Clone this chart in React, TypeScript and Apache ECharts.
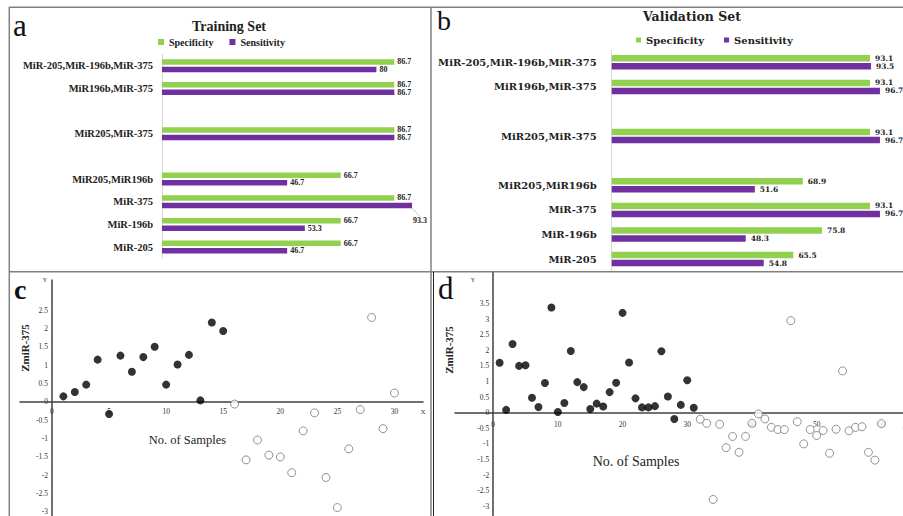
import React, { useEffect, useRef } from 'react';
import * as echarts from 'echarts';

// ---------- data ----------
const barCategories = [
  'MiR-205,MiR-196b,MiR-375',
  'MiR196b,MiR-375',
  '',
  'MiR205,MiR-375',
  ' ',
  'MiR205,MiR196b',
  'MiR-375',
  'MiR-196b',
  'MiR-205',
];
const trainingSpecificity = [86.7, 86.7, null, 86.7, null, 66.7, 86.7, 66.7, 66.7];
const trainingSensitivity = [80, 86.7, null, 86.7, null, 46.7, 93.3, 53.3, 46.7];
const validationSpecificity = [93.1, 93.1, null, 93.1, null, 68.9, 93.1, 75.8, 65.5];
const validationSensitivity = [93.5, 96.7, null, 96.7, null, 51.6, 96.7, 48.3, 54.8];

const trainingHigh = [
  [1, 0.15], [2, 0.27], [3, 0.47], [4, 1.15], [5, -0.33], [6, 1.26], [7, 0.82], [8, 1.22],
  [9, 1.5], [10, 0.47], [11, 1.02], [12, 1.28], [13, 0.04], [14, 2.16], [15, 1.93],
];
const trainingLow = [
  [16, -0.06], [17, -1.58], [18, -1.04], [19, -1.45], [20, -1.5], [21, -1.93], [22, -0.79],
  [23, -0.3], [24, -2.06], [25, -2.88], [26, -1.28], [27, -0.21], [28, 2.3], [29, -0.73], [30, 0.24],
];
const validationHigh = [
  [1, 1.6], [2, 0.09], [3, 2.2], [4, 1.5], [5, 1.52], [6, 0.48], [7, 0.18], [8, 0.95],
  [9, 3.37], [10, 0.02], [11, 0.31], [12, 1.98], [13, 0.98], [14, 0.82], [15, 0.12], [16, 0.29],
  [17, 0.2], [18, 0.66], [19, 0.96], [20, 3.2], [21, 1.61], [22, 0.46], [23, 0.17], [24, 0.17],
  [25, 0.21], [26, 1.97], [27, 0.52], [28, -0.2], [29, 0.25], [30, 1.04], [31, 0.16],
];
const validationLow = [
  [32, -0.21], [33, -0.34], [34, -2.78], [35, -0.37], [36, -1.12], [37, -0.76], [38, -1.27],
  [39, -0.76], [40, -0.34], [41, -0.04], [42, -0.2], [43, -0.47], [44, -0.54], [45, -0.54],
  [46, 2.95], [47, -0.29], [48, -1.0], [49, -0.54], [50, -0.73], [51, -0.57], [52, -1.3],
  [53, -0.53], [54, 1.34], [55, -0.58], [56, -0.47], [57, -0.45], [58, -1.27], [59, -1.52],
  [60, -0.35], [64, -0.5],
];

const trainingXTicks = [0, 5, 10, 15, 20, 25, 30];
const trainingYTicks = [-3, -2.5, -2, -1.5, -1, -0.5, 0, 0.5, 1, 1.5, 2, 2.5];
const validationXTicks = [0, 10, 20, 30, 40, 50, 60];
const validationYTicks = [-3, -2.5, -2, -1.5, -1, -0.5, 0, 0.5, 1, 1.5, 2, 2.5, 3, 3.5];

// ---------- styles ----------
const GREEN = '#92D050';
const PURPLE = '#7030A0';
const SERIF = 'Liberation Serif';
const WIDE = 'DejaVu Serif';
const FRAME = '#808080';
const AXIS = '#404040';

type Box = { left: number; top: number; width: number; height: number };

// Axes that cross at zero: the axis is shifted (offset) from the grid edge to the zero line,
// so that its labels travel with the line.
function scatterAxes(grid: number, box: Box, xr: number[], yr: number[], xt: number[], yt: number[], fs: number, xMargin: number) {
  const lineStyle = { color: AXIS, width: 1.5 };
  const xZeroPx = box.left + ((0 - xr[0]) / (xr[1] - xr[0])) * box.width;
  const yZeroPx = box.top + ((yr[1] - 0) / (yr[1] - yr[0])) * box.height;
  const xOffset = yZeroPx - (box.top + box.height); // bottom axis: y = bottom + offset
  const yOffset = box.left - xZeroPx; // left axis: x = left - offset
  return {
    x: {
      type: 'value', gridIndex: grid, min: xr[0], max: xr[1], position: 'bottom', offset: xOffset,
      axisLine: { show: true, onZero: false, lineStyle },
      axisTick: { show: false }, splitLine: { show: false },
      axisLabel: { customValues: xt, fontFamily: SERIF, fontSize: fs, color: '#333', margin: xMargin },
    },
    y: {
      type: 'value', gridIndex: grid, min: yr[0], max: yr[1], position: 'left', offset: yOffset,
      axisLine: { show: true, onZero: false, lineStyle },
      axisTick: { show: false }, splitLine: { show: false },
      axisLabel: { customValues: yt, fontFamily: SERIF, fontSize: fs, color: '#333', margin: 4 },
    },
  };
}

export default function App() {
  const ref = useRef<HTMLDivElement>(null);
  useEffect(() => {
    if (!ref.current) return;
    const chart = echarts.init(ref.current, null, { renderer: 'svg' });
    const boxC: Box = { left: 20, top: 280, width: 403, height: 243 };
    const boxD: Box = { left: 455, top: 272.3, width: 465.2, height: 249.6 };
    const c = scatterAxes(2, boxC, [-2.8, 32.5], [-3.3, 3.32], trainingXTicks, trainingYTicks, 7.5, 6);
    const d = scatterAxes(3, boxD, [-5.9, 66], [-3.5, 4.5], validationXTicks, validationYTicks, 7.5, 8);

    const barLabelA = { show: true, position: 'right', distance: 3, fontFamily: SERIF, fontWeight: 'bold', fontSize: 8, color: '#222' };
    const barLabelB = { show: true, position: 'right', distance: 5, fontFamily: WIDE, fontWeight: 'bold', fontSize: 7.5, color: '#222' };

    const catAxis = (grid: number, font: string, size: number, margin: number) => ({
      type: 'category', gridIndex: grid, inverse: true, data: barCategories,
      axisLine: { show: true, lineStyle: { color: '#d9d9d9', width: 1 } },
      axisTick: { show: false },
      axisLabel: { fontFamily: font, fontWeight: 'bold', fontSize: size, color: '#222', margin },
    });
    const valAxis = (grid: number) => ({ type: 'value', gridIndex: grid, min: 0, max: 100, show: false });

    const openStyle = { color: '#fff', borderColor: '#777', borderWidth: 1 };

    const option: any = {
      animation: false,
      backgroundColor: '#fff',
      grid: [
        { left: 162, top: 54.4, width: 268, height: 204, outerBoundsMode: 'none' },
        { left: 611.7, top: 50, width: 277.4, height: 221.4, outerBoundsMode: 'none' },
        { ...boxC, outerBoundsMode: 'none' },
        { ...boxD, outerBoundsMode: 'none' },
      ],
      xAxis: [valAxis(0), valAxis(1), c.x, d.x],
      yAxis: [catAxis(0, SERIF, 10.5, 9), catAxis(1, WIDE, 10, 15), c.y, d.y],
      legend: [
        {
          left: 158, top: 37, padding: 0, itemWidth: 6, itemHeight: 6, itemGap: 16, icon: 'rect',
          data: ['Specificity', 'Sensitivity'],
          textStyle: { fontFamily: SERIF, fontWeight: 'bold', fontSize: 10, color: '#222' },
        },
        {
          left: 636, top: 35, padding: 0, itemWidth: 5, itemHeight: 5, itemGap: 20, icon: 'rect',
          data: ['Specificity', 'Sensitivity'],
          textStyle: { fontFamily: WIDE, fontWeight: 'bold', fontSize: 10, color: '#222' },
        },
      ],
      series: [
        {
          type: 'bar', name: 'Specificity', xAxisIndex: 0, yAxisIndex: 0, data: trainingSpecificity,
          barWidth: 5.5, barGap: '36%', itemStyle: { color: GREEN }, label: barLabelA,
        },
        {
          type: 'bar', name: 'Sensitivity', xAxisIndex: 0, yAxisIndex: 0,
          data: trainingSensitivity.map((v, i) =>
            i === 6 ? { value: v, labelLine: { show: true, lineStyle: { color: '#c8c8c8', width: 1 } } } : v),
          labelLayout: (p: any) => (p.dataIndex === 6 ? { dx: -2, dy: 15 } : {}),
          barWidth: 5.5, barGap: '36%', itemStyle: { color: PURPLE }, label: barLabelA,
        },
        {
          type: 'bar', name: 'Specificity', xAxisIndex: 1, yAxisIndex: 1, data: validationSpecificity,
          barWidth: 6.5, barGap: '23%', itemStyle: { color: GREEN }, label: barLabelB,
        },
        {
          type: 'bar', name: 'Sensitivity', xAxisIndex: 1, yAxisIndex: 1, data: validationSensitivity,
          barWidth: 6.5, barGap: '23%', itemStyle: { color: PURPLE }, label: barLabelB,
        },
        {
          type: 'scatter', name: 'Training high', xAxisIndex: 2, yAxisIndex: 2, data: trainingHigh,
          symbolSize: 8, itemStyle: { color: '#000' },
        },
        {
          type: 'scatter', name: 'Training low', xAxisIndex: 2, yAxisIndex: 2, data: trainingLow,
          symbolSize: 8, itemStyle: openStyle,
        },
        {
          type: 'scatter', name: 'Validation high', xAxisIndex: 3, yAxisIndex: 3, data: validationHigh,
          symbolSize: 8, itemStyle: { color: '#000' },
        },
        {
          type: 'scatter', name: 'Validation low', xAxisIndex: 3, yAxisIndex: 3, data: validationLow,
          symbolSize: 8, itemStyle: openStyle,
        },
      ],
      graphic: [
        // frames
        { type: 'line', shape: { x1: 9, y1: 7.3, x2: 903, y2: 7.3 }, style: { stroke: FRAME, lineWidth: 1.5 }, z: 10 },
        { type: 'line', shape: { x1: 9.3, y1: 7, x2: 9.3, y2: 516 }, style: { stroke: FRAME, lineWidth: 1.5 }, z: 10 },
        { type: 'line', shape: { x1: 431, y1: 7, x2: 431, y2: 516 }, style: { stroke: FRAME, lineWidth: 1.5 }, z: 10 },
        { type: 'line', shape: { x1: 9, y1: 271.7, x2: 903, y2: 271.7 }, style: { stroke: FRAME, lineWidth: 1.5 }, z: 10 },
        { type: 'line', shape: { x1: 433.5, y1: 272, x2: 433.5, y2: 516 }, style: { stroke: '#222', lineWidth: 1 }, z: 10 },
        // titles
        { type: 'text', x: 229, y: 26, style: { text: 'Training Set', font: `bold 14px "${SERIF}"`, fill: '#222', align: 'center', verticalAlign: 'middle' } },
        { type: 'text', x: 692, y: 16, style: { text: 'Validation Set', font: `bold 12.5px "${WIDE}"`, fill: '#222', align: 'center', verticalAlign: 'middle' } },
        // panel letters
        { type: 'text', x: 13, y: 25.5, style: { text: 'a', font: `31px "${SERIF}"`, fill: '#111', verticalAlign: 'middle' } },
        { type: 'text', x: 437, y: 20.5, style: { text: 'b', font: `28px "${SERIF}"`, fill: '#111', verticalAlign: 'middle' } },
        { type: 'text', x: 14, y: 289, style: { text: 'c', font: `bold 28px "${SERIF}"`, fill: '#111', verticalAlign: 'middle' } },
        { type: 'text', x: 438, y: 288.5, style: { text: 'd', font: `31px "${SERIF}"`, fill: '#111', verticalAlign: 'middle' } },
        // axis titles
        { type: 'text', x: 25, y: 348, rotation: Math.PI / 2, style: { text: 'ZmiR-375', font: `bold 11px "${SERIF}"`, fill: '#222', align: 'center', verticalAlign: 'middle' } },
        { type: 'text', x: 449, y: 350, rotation: Math.PI / 2, style: { text: 'ZmiR-375', font: `bold 11px "${SERIF}"`, fill: '#222', align: 'center', verticalAlign: 'middle' } },
        { type: 'text', x: 187.5, y: 440, style: { text: 'No. of Samples', font: `12.5px "${SERIF}"`, fill: '#222', align: 'center', verticalAlign: 'middle' } },
        { type: 'text', x: 636, y: 461, style: { text: 'No. of Samples', font: `14px "${SERIF}"`, fill: '#222', align: 'center', verticalAlign: 'middle' } },
        { type: 'text', x: 45, y: 280, style: { text: 'Y', font: `6px "${SERIF}"`, fill: '#333', align: 'center', verticalAlign: 'middle' } },
        { type: 'text', x: 473, y: 280, style: { text: 'Y', font: `6px "${SERIF}"`, fill: '#333', align: 'center', verticalAlign: 'middle' } },
        { type: 'text', x: 423, y: 412, style: { text: 'X', font: `7px "${SERIF}"`, fill: '#333', align: 'center', verticalAlign: 'middle' } },
      ],
    };
    chart.setOption(option);
    return () => chart.dispose();
  }, []);
  return <div ref={ref} style={{ position: 'absolute', left: 0, top: 0, width: 903, height: 516, background: '#fff' }} />;
}
